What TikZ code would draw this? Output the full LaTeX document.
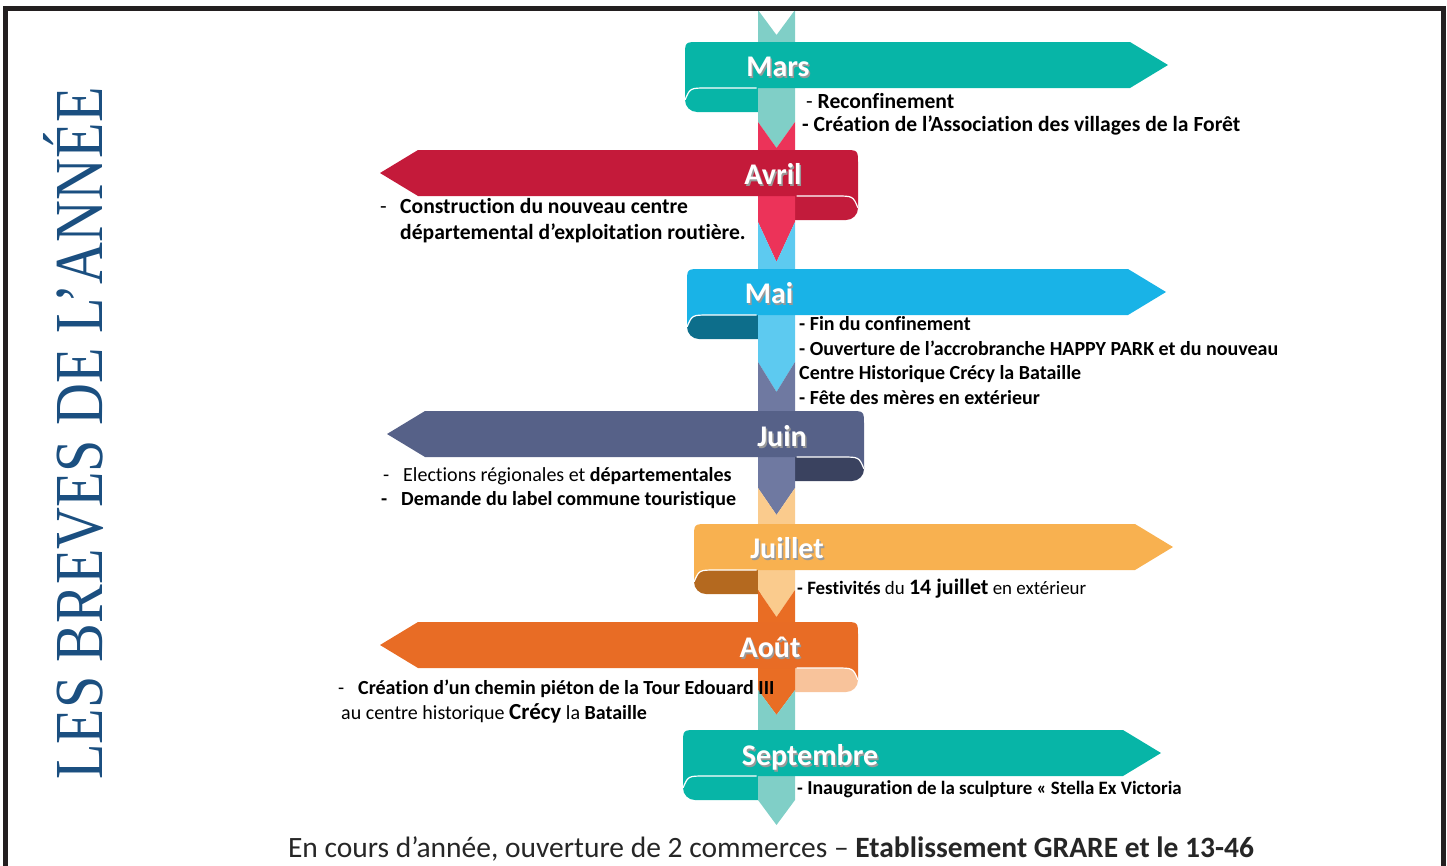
\documentclass[tikz,border=0pt]{standalone}
\usepackage{fontspec}
\setmainfont[Ligatures=NoCommon]{Carlito}
\newfontfamily\titlefont{Liberation Serif}

\definecolor{marsbody}{HTML}{07B5A7}
\definecolor{stripeteal}{HTML}{80CFC7}
\definecolor{avrilbody}{HTML}{C41A3A}
\definecolor{avrilcurl}{HTML}{C21B3B}
\definecolor{stripepink}{HTML}{EC3359}
\definecolor{maibody}{HTML}{19B3E7}
\definecolor{maicurl}{HTML}{0D6E8B}
\definecolor{stripeblue}{HTML}{5DCAF0}
\definecolor{juinbody}{HTML}{566188}
\definecolor{juincurl}{HTML}{3A425F}
\definecolor{stripeslate}{HTML}{6F79A1}
\definecolor{juilletbody}{HTML}{F8B150}
\definecolor{juilletcurl}{HTML}{B4691F}
\definecolor{stripesand}{HTML}{FACB8D}
\definecolor{aoutbody}{HTML}{E86C25}
\definecolor{aoutcurl}{HTML}{F8C39B}
\definecolor{stripeorange}{HTML}{E96D24}
\definecolor{titleblue}{HTML}{1B4F80}
\definecolor{framegrey}{HTML}{231F20}

\tikzset{
  month/.style={anchor=base, inner sep=0pt, text=white,
    font=\fontsize{30}{36}\selectfont\bfseries},
  month shadow/.style={month, text=black!40},
  note/.style={anchor=base west, inner sep=0pt,
    font=\fontsize{20}{24}\selectfont\bfseries},
  big note/.style={note, font=\fontsize{21.6}{26}\selectfont\bfseries},
  small note/.style={note, font=\fontsize{18.9}{23}\selectfont\bfseries},
  frame/.style={draw=framegrey, line width=5pt}
}

% dir/near/far/top/body colour/curl colour
\def\ribbonlist{1/91.5/353.5/42/marsbody/marsbody,
  -1/81.5/358.5/150/avrilbody/avrilcurl,
  1/89.5/351.5/269/maibody/maicurl,
  -1/87.5/351.5/411/juinbody/juincurl,
  1/82.5/358.5/524/juilletbody/juilletcurl,
  -1/81.5/358.5/622/aoutbody/aoutcurl,
  1/93.5/346.5/730/marsbody/marsbody}

\begin{document}
\begin{tikzpicture}[x=1pt,y=-1pt]
	\useasboundingbox (0,0) rectangle (1447,865);
	% rolled ends behind the stripe
	\foreach \dir/\near/\far/\yt/\fc/\cc in \ribbonlist {
		\pgfmathsetmacro{\nx}{776.5-(\dir)*\near}
		\fill[\cc, rounded corners=12pt] (\nx,\yt+44) rectangle ({776.5-(\dir)*5},\yt+70);
	}
	% the stripe
	\foreach \ya/\yb/\dn/\dp/\sc in {10/122/25/26/stripeteal,
								122/222/26/40/stripepink,
								222/362/40/30/stripeblue,
								362/488/30/27/stripeslate,
								488/590/27/27/stripesand,
								590/690/27/25/stripeorange,
								690/800/25/25/stripeteal}
		\fill[\sc] (758,\ya) -- (776.5,\ya+\dn) -- (795,\ya) -- (795,\yb)
			-- (776.5,\yb+\dp) -- (758,\yb) -- cycle;
	% the ribbons
	\foreach \dir/\near/\far/\yt/\fc/\cc in \ribbonlist {
		\pgfmathsetmacro{\nx}{776.5-(\dir)*\near}
		\pgfmathsetmacro{\fx}{776.5+(\dir)*\far}
		\pgfmathsetmacro{\tx}{\fx+(\dir)*38}
		\fill[\fc] (\nx,\yt+14) .. controls (\nx,\yt) .. ({\nx+(\dir)*14},\yt)
			-- (\fx,\yt) -- (\tx,\yt+23) -- (\fx,\yt+46)
			-- ({\nx+(\dir)*22},\yt+46) .. controls ({\nx+(\dir)*5},\yt+46) .. (\nx,\yt+58) -- cycle;
		\draw[white, line width=1.2pt] (\nx,\yt+58) .. controls ({\nx+(\dir)*5},\yt+46) .. ({\nx+(\dir)*22},\yt+46)
			-- ({776.5-(\dir)*20},\yt+46);
	}
	% month names
	\foreach \nm/\lx/\ly/\txt in {mars/778/76/Mars, avril/773/184/Avril, mai/769/303/Mai,
							juin/782/446/Juin, juillet/787/558/Juillet, aout/770/657/Août,
							septembre/810/765/Septembre} {
		\node[month shadow] (\nm-sh) at (\lx+1.5,\ly+2) {\txt};
		\node[month] (\nm) at (\lx,\ly) {\txt};
	}
	% events
	\node[big note] (mars-a) at (806,108) {{\mdseries -} Reconfinement};
	\node[big note] (mars-b) at (802,131) {- Création de l’Association des villages de la Forêt};
	\node[big note] (avril-d) at (380,213) {{\mdseries -}};
	\node[big note] (avril-a) at (400,213) {Construction du nouveau centre};
	\node[big note] (avril-b) at (400,239) {départemental d’exploitation routière.};
	\node[note] (mai-a) at (799,330) {- Fin du confinement};
	\node[note] (mai-b) at (799,355) {- Ouverture de l’accrobranche HAPPY PARK et du nouveau};
	\node[note] (mai-c) at (799,379) {Centre Historique Crécy la Bataille};
	\node[note] (mai-d) at (799,404) {- Fête des mères en extérieur};
	\node[note] (juin-d) at (383,481) {{\mdseries -}};
	\node[note] (juin-a) at (403,481) {{\mdseries Elections régionales et} départementales};
	\node[note] (juin-e) at (381,505) {-};
	\node[note] (juin-b) at (401,505) {Demande du label commune touristique};
	\node[small note] (juillet-a) at (797,594) {- Festivités {\mdseries du} {\fontsize{22}{26}\selectfont 14 juillet} {\mdseries en extérieur}};
	\node[note] (aout-d) at (338,694) {{\mdseries -}};
	\node[note] (aout-a) at (358,694) {Création d’un chemin piéton de la Tour Edouard III};
	\node[note] (aout-b) at (341,719) {{\mdseries au centre historique} {\fontsize{23}{26}\selectfont Crécy} {\mdseries la} Bataille};
	\node[small note] (sept-a) at (797,794) {- {\fontsize{19.8}{24}\selectfont Inauguration} de la sculpture « Stella Ex Victoria};
	\node[anchor=base, inner sep=0pt, text=black!85, font=\fontsize{29.5}{34}\selectfont] (footer) at (771,857)
		{En cours d’année, ouverture de 2 commerces – \textbf{Etablissement GRARE et le 13-46}};
	% title and frame
	\node[rotate=90, anchor=base west, inner sep=0pt, text=titleblue] (title) at (102,780)
		{\resizebox{692pt}{59pt}{\titlefont LES BREVES DE L’ANNÉE}};
	\draw[frame] (5.5,870) -- (5.5,8.5) -- (1443.5,8.5) -- (1443.5,870);
\end{tikzpicture}
\end{document}
